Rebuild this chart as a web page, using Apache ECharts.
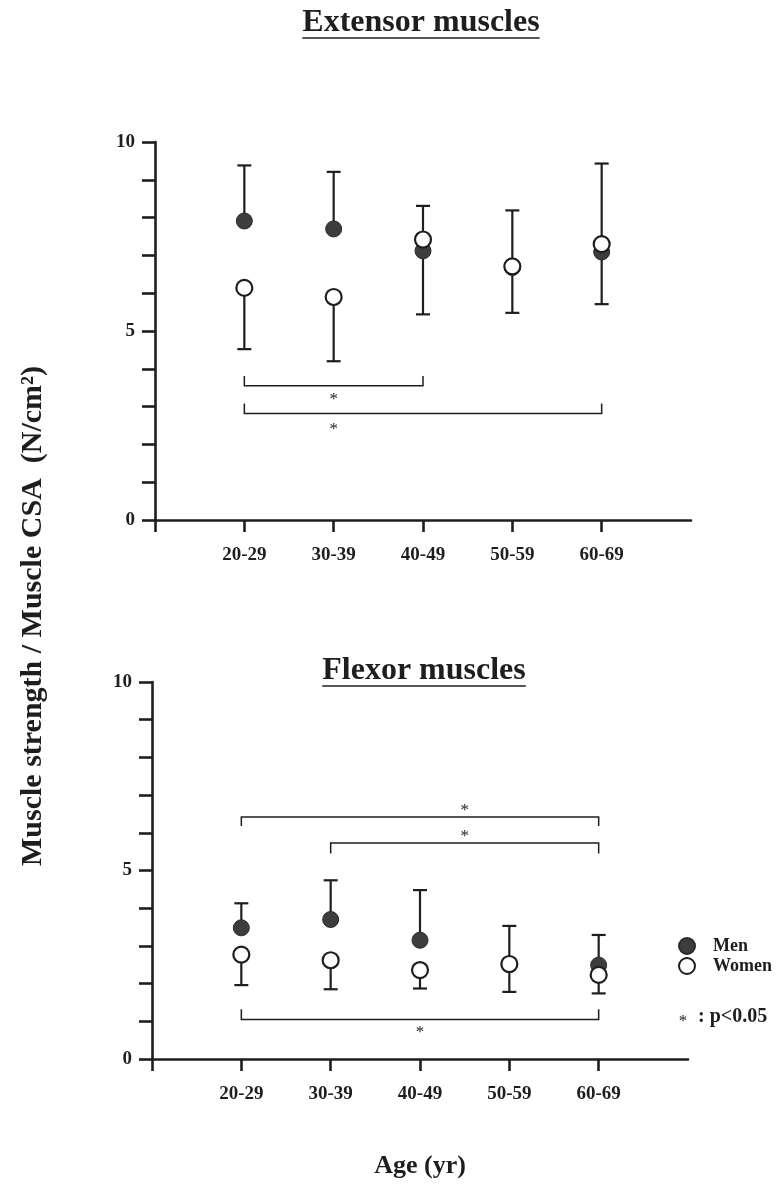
<!DOCTYPE html>
<html><head><meta charset="utf-8">
<script src="https://cdn.jsdelivr.net/npm/echarts@6/dist/echarts.min.js"></script>
<style>html,body{margin:0;padding:0;background:#fff}#c{width:782px;height:1189px}</style>
</head><body><div id="c"></div>
<script>
// ---------- data ----------
const categories = ['20-29', '30-39', '40-49', '50-59', '60-69'];
const yTickLabels = [0, 5, 10];

const extMenMean    = [7.91, 7.70, 7.12, 6.68, 7.09];
const extMenUpper   = [9.38, 9.21, 8.31, 8.19, 9.43];
const extWomenMean  = [6.14, 5.90, 7.42, 6.71, 7.30];
const extWomenLower = [4.52, 4.20, 5.44, 5.48, 5.71];

const flexMenMean    = [3.48, 3.70, 3.15, 2.50, 2.49];
const flexMenUpper   = [4.13, 4.74, 4.48, 3.53, 3.29];
const flexWomenMean  = [2.77, 2.62, 2.36, 2.52, 2.23];
const flexWomenLower = [1.96, 1.85, 1.87, 1.78, 1.74];

// brackets: [from, to, line level, end-tick level]
const extBrackets  = [['20-29', '40-49', 3.55, 3.81], ['20-29', '60-69', 2.82, 3.08]];
const flexBrackets = [['20-29', '60-69', 6.42, 6.18], ['30-39', '60-69', 5.73, 5.45], ['20-29', '60-69', 1.05, 1.32]];
// asterisks: [between cat A, and cat B, level]
const extStars  = [['30-39', '30-39', 3.30], ['30-39', '30-39', 2.50]];
const flexStars = [['40-49', '50-59', 6.69], ['40-49', '50-59', 6.02], ['40-49', '40-49', 0.81]];

// ---------- helpers ----------
const INK = '#1e1e1e';
const SERIF = '"Liberation Serif", "Times New Roman", serif';
const axisCats = [''].concat(categories, [' ']);
const ci = c => categories.indexOf(c) + 1;

function xAxis(g) {
  return {
    type: 'category', gridIndex: g, data: axisCats, boundaryGap: false,
    axisLine: { lineStyle: { color: INK, width: 2.6 } },
    axisTick: { show: true, length: 12, inside: false, interval: (i) => i < axisCats.length - 1,
                lineStyle: { color: INK, width: 2.6 } },
    axisLabel: { interval: 0, margin: 26, color: INK, fontFamily: SERIF, fontWeight: 'bold', fontSize: 19 },
    splitLine: { show: false }
  };
}
function yAxis(g) {
  return {
    type: 'value', gridIndex: g, min: 0, max: 10, interval: 1,
    axisLine: { show: true, lineStyle: { color: INK, width: 2.6 } },
    axisTick: { show: true, length: 13, lineStyle: { color: INK, width: 2.6 } },
    axisLabel: { margin: 20, color: INK, fontFamily: SERIF, fontWeight: 'bold', fontSize: 19,
                 formatter: v => yTickLabels.indexOf(v) >= 0 ? String(v) : '' },
    splitLine: { show: false }
  };
}
function errItem(params, api) {
  const x = api.value(0);
  const a = api.coord([x, api.value(1)]);
  const b = api.coord([x, api.value(2)]);
  return { type: 'group', children: [
    { type: 'line', shape: { x1: a[0], y1: a[1], x2: b[0], y2: b[1] }, style: { stroke: INK, lineWidth: 2.2 } },
    { type: 'line', shape: { x1: b[0] - 7, y1: b[1], x2: b[0] + 7, y2: b[1] }, style: { stroke: INK, lineWidth: 2.2 } }
  ]};
}
function bracketItem(params, api) {
  const p1 = api.coord([api.value(0), api.value(3)]);
  const p2 = api.coord([api.value(0), api.value(2)]);
  const p3 = api.coord([api.value(1), api.value(2)]);
  const p4 = api.coord([api.value(1), api.value(3)]);
  return { type: 'polyline', shape: { points: [p1, p2, p3, p4] }, style: { stroke: INK, lineWidth: 1.5, fill: null } };
}
function starItem(params, api) {
  const a = api.coord([api.value(0), api.value(2)]);
  const b = api.coord([api.value(1), api.value(2)]);
  return { type: 'text', x: (a[0] + b[0]) / 2, y: a[1] + 4,
           style: { text: '*', font: '17px ' + SERIF, fill: INK, align: 'center', verticalAlign: 'middle' } };
}
function seriesFor(g, menMean, menUp, womenMean, womenLow, brackets, stars) {
  const idx = categories.map((c, i) => i + 1);
  return [
    { type: 'custom', xAxisIndex: g, yAxisIndex: g, z: 2, renderItem: errItem, encode: { x: 0, y: [1, 2] },
      data: idx.map((x, i) => [x, menMean[i], menUp[i]]) },
    { type: 'custom', xAxisIndex: g, yAxisIndex: g, z: 2, renderItem: errItem, encode: { x: 0, y: [1, 2] },
      data: idx.map((x, i) => [x, womenMean[i], womenLow[i]]) },
    { type: 'scatter', name: 'Men', xAxisIndex: g, yAxisIndex: g, z: 3, symbol: 'circle', symbolSize: 16,
      itemStyle: { color: '#3d3d3d', borderColor: '#2a2a2a', borderWidth: 1, opacity: 1 },
      data: idx.map((x, i) => [x, menMean[i]]) },
    { type: 'scatter', name: 'Women', xAxisIndex: g, yAxisIndex: g, z: 4, symbol: 'circle', symbolSize: 16,
      itemStyle: { color: '#ffffff', borderColor: INK, borderWidth: 2.2, opacity: 1 },
      data: idx.map((x, i) => [x, womenMean[i]]) },
    { type: 'custom', xAxisIndex: g, yAxisIndex: g, z: 1, renderItem: bracketItem, encode: { x: [0, 1], y: [2, 3] },
      data: brackets.map(b => [ci(b[0]), ci(b[1]), b[2], b[3]]) },
    { type: 'custom', xAxisIndex: g, yAxisIndex: g, z: 1, renderItem: starItem, encode: { x: [0, 1], y: 2 },
      data: stars.map(s => [ci(s[0]), ci(s[1]), s[2]]) }
  ];
}

// text measuring for underlines
const mctx = document.createElement('canvas').getContext('2d');
function tw(text, font) { mctx.font = font; return mctx.measureText(text).width; }

const TITLE_FONT = 'bold 32px ' + SERIF;
function titleGraphic(text, cx, cy, uy) {
  const w = tw(text, TITLE_FONT);
  return [
    { type: 'text', x: cx, y: cy, style: { text: text, font: TITLE_FONT, fill: INK, align: 'center', verticalAlign: 'middle' } },
    { type: 'line', shape: { x1: cx - w / 2, y1: uy, x2: cx + w / 2, y2: uy }, style: { stroke: INK, lineWidth: 1.6 } }
  ];
}

const chart = echarts.init(document.getElementById('c'));
chart.setOption({
  backgroundColor: '#ffffff',
  animation: false,
  grid: [
    { left: 155, top: 142, width: 536, height: 378 },
    { left: 152, top: 682, width: 536, height: 377 }
  ],
  xAxis: [xAxis(0), xAxis(1)],
  yAxis: [yAxis(0), yAxis(1)],
  legend: {
    data: ['Men', 'Women'], orient: 'vertical', left: 673, top: 932,
    itemWidth: 16, itemHeight: 16, itemGap: 2, selectedMode: false,
    textStyle: { color: INK, fontFamily: SERIF, fontWeight: 'bold', fontSize: 18, padding: [0, 0, 0, 13] }
  },
  series: [].concat(
    seriesFor(0, extMenMean, extMenUpper, extWomenMean, extWomenLower, extBrackets, extStars),
    seriesFor(1, flexMenMean, flexMenUpper, flexWomenMean, flexWomenLower, flexBrackets, flexStars)
  ),
  graphic: [].concat(
    titleGraphic('Extensor muscles', 421, 23, 38),
    titleGraphic('Flexor muscles', 424, 671, 686),
    [
      { type: 'text', x: 33, y: 616, rotation: Math.PI / 2,
        style: { text: 'Muscle strength / Muscle CSA  (N/cm²)', font: 'bold 30px ' + SERIF, fill: INK, align: 'center', verticalAlign: 'middle' } },
      { type: 'text', x: 420, y: 1166,
        style: { text: 'Age (yr)', font: 'bold 26px ' + SERIF, fill: INK, align: 'center', verticalAlign: 'middle' } },
      { type: 'text', x: 683, y: 1022,
        style: { text: '*', font: '17px ' + SERIF, fill: INK, align: 'center', verticalAlign: 'middle' } },
      { type: 'text', x: 698, y: 1017,
        style: { text: ': p<0.05', font: 'bold 20px ' + SERIF, fill: INK, align: 'left', verticalAlign: 'middle' } }
    ]
  )
});
</script></body></html>
